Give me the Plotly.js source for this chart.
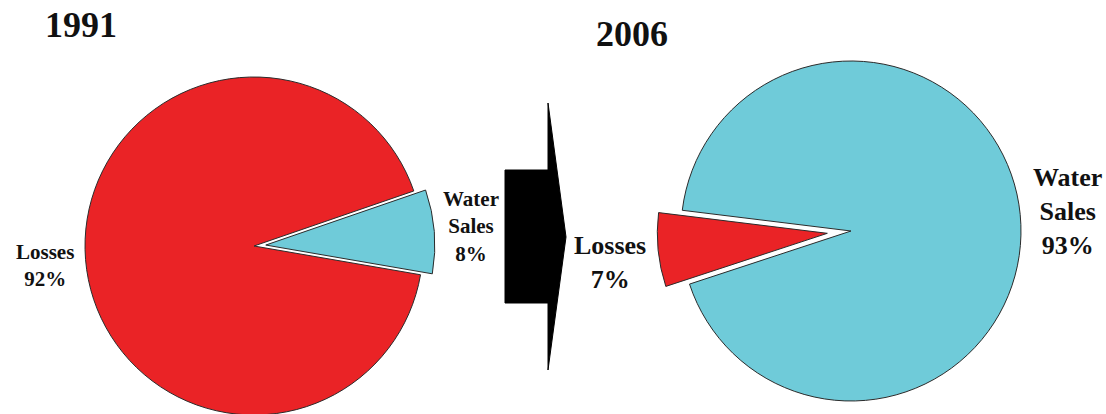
<!DOCTYPE html>
<html>
<head>
<meta charset="utf-8">
<script src="https://cdn.plot.ly/plotly-3.0.1.min.js"></script>
<style>
  html, body { margin: 0; padding: 0; overflow: hidden; background: #fff; }
  #chart { width: 1106px; height: 460px; }
</style>
</head>
<body>
<div id="chart"></div>
<script>
// Share of produced water: billed sales vs. losses
const years = ['1991', '2006'];
const labels = ['Water Sales', 'Losses'];
const values1991 = [8, 92];
const values2006 = [93, 7];
const sliceColors = ['#6FCBD9', '#EA2326'];

const W = 1106, H = 460;
// pixel -> paper helpers for the layout
const px = x => x / W;
const py = y => (H - y) / H;

// pie box from a centre, radius and the largest pull
function domainFor(cx, cy, r, pull) {
  const R = r * (1 + pull);
  return { x: [px(cx - R), px(cx + R)], y: [py(cy + R), py(cy - R)] };
}

const line = { color: '#2b2b2b', width: 1 };

const pie1991 = {
  type: 'pie', labels: labels, values: values1991, sort: false,
  direction: 'clockwise', rotation: 71,
  pull: [0.07, 0], marker: { colors: sliceColors, line: line },
  textinfo: 'none', hoverinfo: 'label+percent',
  domain: domainFor(254, 246, 169, 0.07)
};
const pie2006 = {
  type: 'pie', labels: labels, values: values2006, sort: false,
  direction: 'clockwise', rotation: 277,
  pull: [0, 0.14], marker: { colors: sliceColors, line: line },
  textinfo: 'none', hoverinfo: 'label+percent',
  domain: domainFor(851, 231, 170, 0.14)
};

const serif = 'Liberation Serif, Times New Roman, serif';
function sliceLabel(name, value, x, y, size) {
  return {
    xref: 'paper', yref: 'paper', x: px(x), y: py(y),
    xanchor: 'center', yanchor: 'middle', showarrow: false,
    text: '<b>' + name.split(' ').join('<br>') + '<br>' + value + '%</b>',
    font: { family: serif, size: size, color: '#111' }
  };
}
function yearTitle(text, x, y) {
  return {
    xref: 'paper', yref: 'paper', x: px(x), y: py(y),
    xanchor: 'center', yanchor: 'middle', showarrow: false,
    text: '<b>' + text + '</b>',
    font: { family: serif, size: 36, color: '#111' }
  };
}

const annotations = [
  yearTitle(years[0], 81, 25),
  yearTitle(years[1], 632, 34),
  sliceLabel(labels[1], values1991[1], 45, 265, 21),
  sliceLabel(labels[0], values1991[0], 471, 226, 21),
  sliceLabel(labels[1], values2006[1], 610, 262, 26),
  sliceLabel(labels[0], values2006[0], 1067, 211, 26)
];

// block arrow between the two pies
const arrowPts = [[505, 170], [548, 170], [548, 103], [566, 237], [548, 370], [548, 303], [505, 303]];
const arrowPath = 'M ' + arrowPts.map(p => px(p[0]) + ',' + py(p[1])).join(' L ') + ' Z';

const layout = {
  width: W, height: H,
  margin: { l: 0, r: 0, t: 0, b: 0 },
  paper_bgcolor: '#fff',
  showlegend: false,
  annotations: annotations,
  shapes: [{
    type: 'path', xref: 'paper', yref: 'paper', path: arrowPath,
    fillcolor: '#000', line: { color: '#000', width: 1 }
  }]
};

Plotly.newPlot('chart', [pie1991, pie2006], layout, { displayModeBar: false, staticPlot: true });
</script>
</body>
</html>
